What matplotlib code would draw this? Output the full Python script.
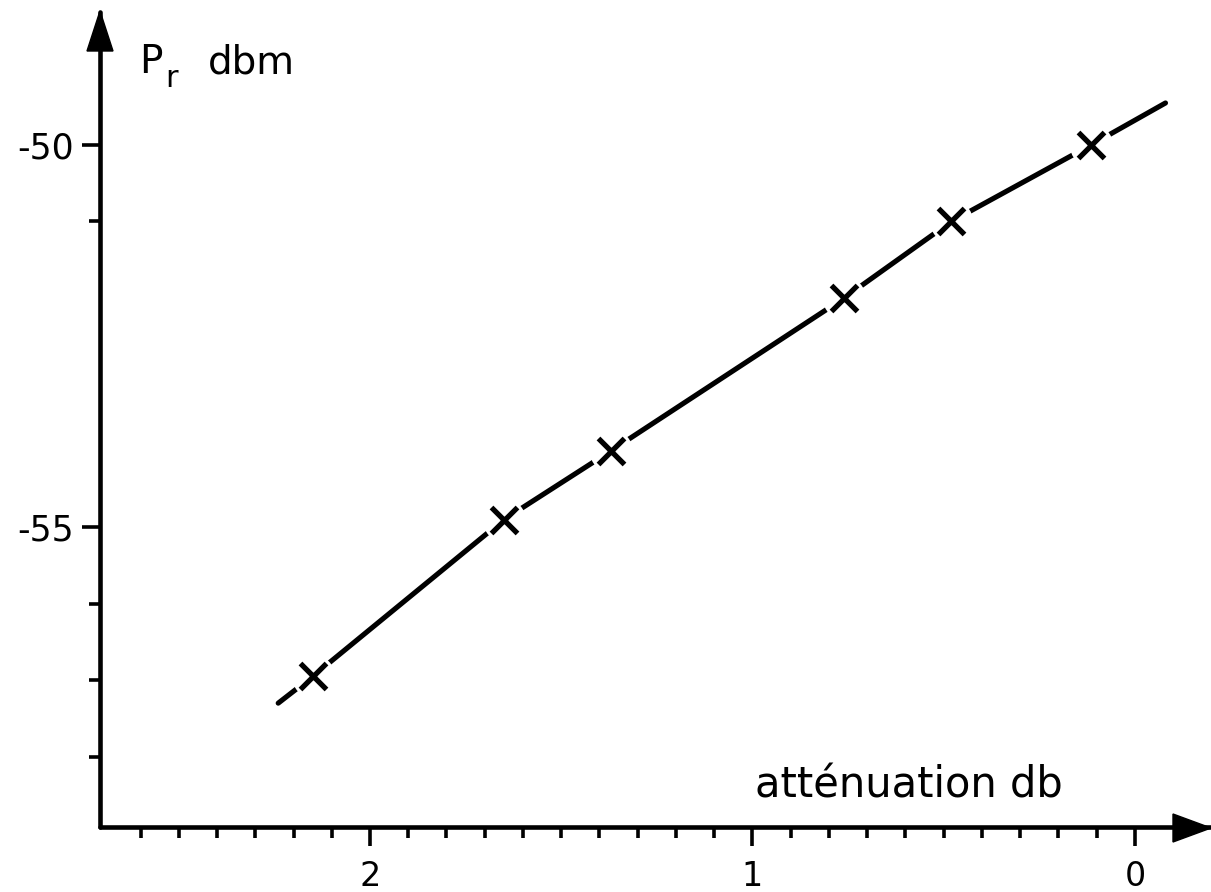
import matplotlib
matplotlib.use('Agg')
import matplotlib.pyplot as plt
from matplotlib.patches import Polygon

# ---- data ----
attenuation = [2.15, 1.65, 1.37, 0.76, 0.48, 0.115]
power = [-56.95, -54.9, -54.0, -52.0, -51.0, -50.0]
curve_att = [2.24, 2.15, 1.65, 1.37, 0.76, 0.48, 0.115, -0.08]
curve_pow = [-57.3, -56.95, -54.9, -54.0, -52.0, -51.0, -50.0, -49.45]

x_major = [0, 1, 2]
x_labels = ['0', '1', '2']
x_minor = [0.1, 0.2, 0.3, 0.4, 0.5, 0.6, 0.7, 0.8, 0.9,
           1.1, 1.2, 1.3, 1.4, 1.5, 1.6, 1.7, 1.8, 1.9,
           2.1, 2.2, 2.3, 2.4, 2.5, 2.6]
y_major = [-55, -50]
y_labels = ['-55', '-50']
y_minor = [-58, -57, -56, -51]

W, H = 1211, 892
plt.rcParams['font.family'] = ['DejaVu Sans']
fig = plt.figure(figsize=(W / 100, H / 100), dpi=100)


def fx(x):
    return x / W


def fy(y):
    return 1 - y / H


ax = fig.add_axes([fx(100), 65 / H, (W - 100) / W, (827 - 12) / H])
ax.set_xlim(2.706, -0.199)
ax.set_ylim(-58.92, -48.26)
ax.patch.set_alpha(0)

for s in ['top', 'right']:
    ax.spines[s].set_visible(False)
for s in ['left', 'bottom']:
    ax.spines[s].set_linewidth(3.3)
    ax.spines[s].set_capstyle('round')

ax.set_xticks(x_major)
ax.set_xticklabels(x_labels)
ax.set_xticks(x_minor, minor=True)
ax.set_yticks(y_major)
ax.set_yticklabels(y_labels)
ax.set_yticks(y_minor, minor=True)

ax.tick_params(axis='x', which='major', direction='out', length=14, width=2.6,
               pad=10, labelsize=24)
ax.tick_params(axis='x', which='minor', direction='out', length=8, width=2.6)
ax.tick_params(axis='y', which='major', direction='out', length=13, width=2.6,
               pad=6, labelsize=25)
ax.tick_params(axis='y', which='minor', direction='out', length=8, width=2.6)

# curve
ax.plot(curve_att, curve_pow, color='black', lw=3.7, solid_capstyle='round',
        solid_joinstyle='round', zorder=2, clip_on=False)
# gaps around markers
ax.plot(attenuation, power, linestyle='none', marker='o', ms=31,
        mfc='white', mec='none', zorder=3, clip_on=False)
# markers
ax.plot(attenuation, power, linestyle='none', marker='x', ms=19, mew=3.8,
        color='black', zorder=4, clip_on=False)

# arrow heads
fig.patches.append(Polygon([(fx(1211), fy(828)), (fx(1173), fy(814)), (fx(1173), fy(842))],
                           closed=True, color='black', transform=fig.transFigure))
fig.patches.append(Polygon([(fx(100), fy(11)), (fx(87), fy(51)), (fx(113), fy(51))],
                           closed=True, color='black', transform=fig.transFigure))

# axis titles
fig.text(fx(139), fy(73), 'P', fontsize=28, ha='left', va='baseline')
fig.text(fx(165), fy(87), 'r', fontsize=22, ha='left', va='baseline')
fig.text(fx(208), fy(73), 'dbm', fontsize=28, ha='left', va='baseline')
fig.text(fx(755), fy(797), 'atténuation db', fontsize=30, ha='left', va='baseline')

fig.savefig('out.png', dpi=100)
